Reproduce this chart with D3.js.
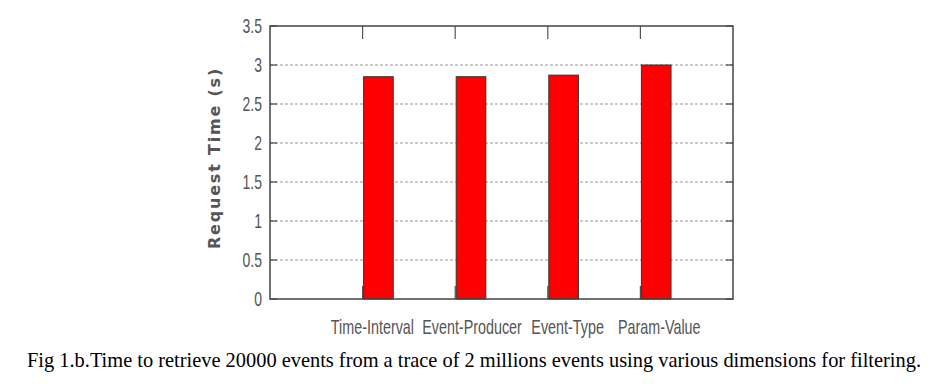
<!DOCTYPE html>
<html>
<head>
<meta charset="utf-8">
<script src="https://cdn.jsdelivr.net/npm/d3@7/dist/d3.min.js"></script>
<style>
  html, body { margin: 0; padding: 0; background: #fff; }
  svg { display: block; }
</style>
</head>
<body>
<svg id="chart" width="938" height="385"></svg>
<script>
const categories = ["Time-Interval", "Event-Producer", "Event-Type", "Param-Value"];
const values = [2.85, 2.85, 2.87, 3.0];
const yTicks = [0, 0.5, 1, 1.5, 2, 2.5, 3, 3.5];
const yTickLabels = ["0", "0.5", "1", "1.5", "2", "2.5", "3", "3.5"];
const yLabel = "Request Time (s)";
const caption = "Fig 1.b.Time to retrieve 20000 events from a trace of 2 millions events using various dimensions for filtering.";

const svg = d3.select("#chart");
const L = 270, R = 733, T = 26, B = 299;
const x = d3.scaleLinear().domain([0, categories.length + 1]).range([L, R]);
const y = d3.scaleLinear().domain([0, 3.5]).range([B, T]);
const barW = 0.32;
const sans = "'Liberation Sans', Arial, sans-serif";
const gray = "#555";
const squeeze = 0.7;

// gridlines
svg.append("g").selectAll("line").data(yTicks.filter(t => t > 0 && t < 3.5)).join("line")
  .attr("x1", L).attr("x2", R)
  .attr("y1", d => y(d)).attr("y2", d => y(d))
  .attr("stroke", "#999").attr("stroke-width", 1)
  .attr("stroke-dasharray", "3,2");

// y ticks left and right
const yt = svg.append("g");
yt.selectAll("line.l").data(yTicks).join("line").attr("class", "l")
  .attr("x1", L).attr("x2", L + 7).attr("y1", d => y(d)).attr("y2", d => y(d))
  .attr("stroke", "#444").attr("stroke-width", 1.2);
yt.selectAll("line.r").data(yTicks).join("line").attr("class", "r")
  .attr("x1", R - 7).attr("x2", R).attr("y1", d => y(d)).attr("y2", d => y(d))
  .attr("stroke", "#444").attr("stroke-width", 1.2);

// x ticks top and bottom
const idx = categories.map((c, i) => i + 1);
svg.append("g").selectAll("line.t").data(idx).join("line").attr("class", "t")
  .attr("x1", d => x(d)).attr("x2", d => x(d)).attr("y1", T).attr("y2", T + 13)
  .attr("stroke", "#555").attr("stroke-width", 1.2);
svg.append("g").selectAll("line.b").data(idx).join("line").attr("class", "b")
  .attr("x1", d => x(d)).attr("x2", d => x(d)).attr("y1", B).attr("y2", B - 13)
  .attr("stroke", "#555").attr("stroke-width", 1.2);

// bars
svg.append("g").selectAll("rect").data(values).join("rect")
  .attr("x", (d, i) => x(i + 1) + 1)
  .attr("width", (d, i) => x(i + 1 + barW) - x(i + 1))
  .attr("y", d => y(d))
  .attr("height", d => B - y(d))
  .attr("fill", "#ff0000")
  .attr("stroke", "#333").attr("stroke-width", 1);

// frame
svg.append("rect").attr("x", L).attr("y", T).attr("width", R - L).attr("height", B - T)
  .attr("fill", "none").attr("stroke", "#444").attr("stroke-width", 1.5);

// y tick labels
svg.append("g").selectAll("text").data(yTicks).join("text")
  .attr("transform", d => `translate(${L - 8},${y(d) + 7}) scale(${squeeze},1)`)
  .attr("text-anchor", "end")
  .attr("font-family", sans).attr("font-size", 20).attr("fill", gray)
  .text((d, i) => yTickLabels[i]);

// x labels
const labelShift = [-5, 2, 5, 4];
svg.append("g").selectAll("text").data(categories).join("text")
  .attr("transform", (d, i) => `translate(${x(i + 1 + barW / 2) + labelShift[i]},334) scale(${squeeze},1)`)
  .attr("text-anchor", "middle")
  .attr("font-family", sans).attr("font-size", 20.5).attr("fill", gray)
  .text(d => d);

// y label
svg.append("text")
  .attr("transform", "translate(220,158) rotate(-90)")
  .attr("text-anchor", "middle")
  .attr("font-family", "'DejaVu Sans', sans-serif").attr("font-weight", "bold")
  .attr("font-size", 16).attr("letter-spacing", 1.8).attr("fill", gray)
  .text(yLabel);

// caption
svg.append("text")
  .attr("x", 27).attr("y", 367)
  .attr("font-family", "'Liberation Serif', 'Times New Roman', serif")
  .attr("font-size", 20.4).attr("fill", "#000")
  .text(caption);
</script>
</body>
</html>
